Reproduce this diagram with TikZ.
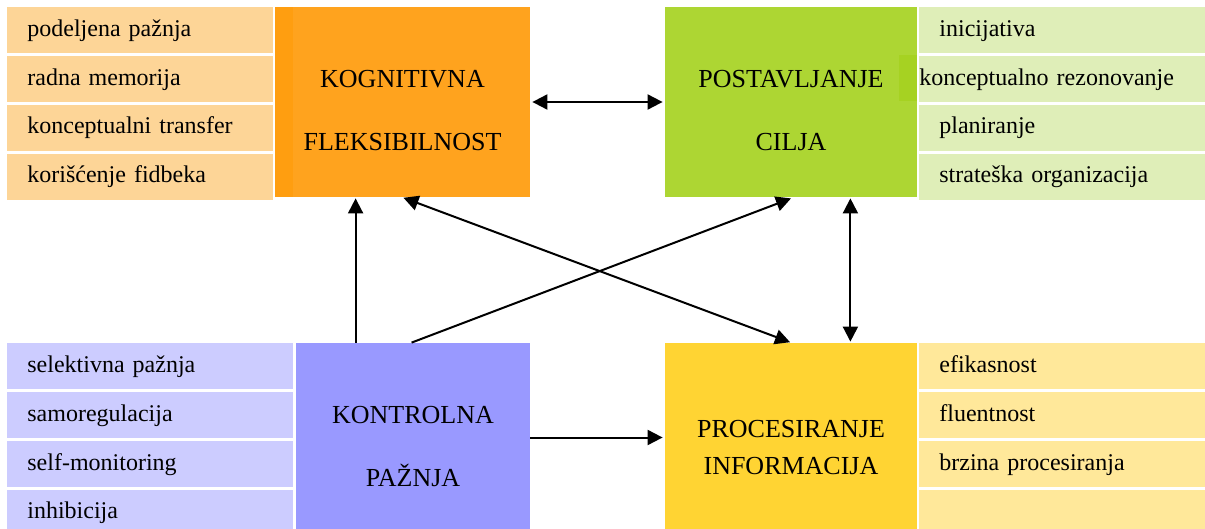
\documentclass[tikz,border=0pt]{standalone}
\usepackage{fontspec}
\setmainfont{Liberation Serif}
\usetikzlibrary{positioning,arrows.meta}

\definecolor{kfmain}{RGB}{255,163,30}
\definecolor{kfdark}{RGB}{255,158,16}
\definecolor{kflist}{RGB}{253,213,151}
\definecolor{pcmain}{RGB}{173,214,51}
\definecolor{pcdark}{RGB}{166,210,34}
\definecolor{pclist}{RGB}{223,238,184}
\definecolor{kpmain}{RGB}{153,153,255}
\definecolor{kplist}{RGB}{204,204,255}
\definecolor{pimain}{RGB}{255,212,51}
\definecolor{pilist}{RGB}{255,232,154}

\begin{document}
\begin{tikzpicture}[x=0.5pt,y=-0.5pt,node distance=1pt,
  item/.style={rectangle,inner xsep=10pt,inner ysep=0pt,text width=#1,minimum height=23pt,
    text height=8.5pt,text depth=2.5pt,align=left,font=\fontsize{12}{14}\selectfont},
  mainbox/.style={rectangle,inner sep=0pt,minimum width=#1,minimum height=95pt},
  title/.style={align=center,font=\fontsize{13}{31.5}\selectfont},
  tip/.style={Triangle[length=7.5pt,width=7.5pt]},
  arr/.style={-{Triangle[length=7.5pt,width=7.5pt]},line width=1pt},
  darr/.style={{Triangle[length=7.5pt,width=7.5pt]}-{Triangle[length=7.5pt,width=7.5pt]},line width=1pt}]
\useasboundingbox (0,0) rectangle (1205,529);

% main boxes
\node (kf) [mainbox=127.5pt,fill=kfmain] at (402.5,102) {};
\node (pc) [mainbox=126pt,fill=pcmain] at (791,102) {};
\node (kp) [mainbox=117pt,minimum height=94.5pt,fill=kpmain] at (413,437.5) {};
\node (pi) [mainbox=126pt,minimum height=94.5pt,fill=pimain] at (791,437.5) {};
\fill[kfdark] (275,7) rectangle (293,197);
\fill[pcdark] (899,55) rectangle (917,101);

\node (kft) [title] at (402.5,111) {KOGNITIVNA\\FLEKSIBILNOST};
\node (pct) [title] at (791,111) {POSTAVLJANJE\\CILJA};
\node (kpt) [title] at (413,447) {KONTROLNA\\PAŽNJA};
\node (pit) [title,font=\fontsize{13}{18.5}\selectfont] at (791,447.5) {PROCESIRANJE\\INFORMACIJA};

% kognitivna fleksibilnost
\node (kf1) [item=113pt,fill=kflist,anchor=north west] at (7,7) {podeljena pažnja};
\node (kf2) [item=113pt,fill=kflist,below=of kf1] {radna memorija};
\node (kf3) [item=113pt,fill=kflist,below=of kf2] {konceptualni transfer};
\node (kf4) [item=113pt,fill=kflist,below=of kf3] {korišćenje fidbeka};

% postavljanje cilja
\node (pc1) [item=123pt,fill=pclist,anchor=north west] at (919,7) {inicijativa};
\node (pc2) [item=123pt,fill=pclist,below=of pc1] {\hspace*{-10pt}konceptualno rezonovanje};
\node (pc3) [item=123pt,fill=pclist,below=of pc2] {planiranje};
\node (pc4) [item=123pt,fill=pclist,below=of pc3] {strateška organizacija};

% kontrolna paznja
\node (kp1) [item=123pt,fill=kplist,anchor=north west] at (7,343) {selektivna pažnja};
\node (kp2) [item=123pt,fill=kplist,below=of kp1] {samoregulacija};
\node (kp3) [item=123pt,fill=kplist,below=of kp2] {self-monitoring};
\node (kp4) [item=123pt,fill=kplist,below=of kp3] {inhibicija};

% procesiranje informacija
\node (pi1) [item=123pt,fill=pilist,anchor=north west] at (919,343) {efikasnost};
\node (pi2) [item=123pt,fill=pilist,below=of pi1] {fluentnost};
\node (pi3) [item=123pt,fill=pilist,below=of pi2] {brzina procesiranja};
\node (pi4) [item=123pt,fill=pilist,below=of pi3] {};

% connectors
\draw[darr,shorten <=1pt,shorten >=1pt] (kf.east) -- (pc.west);
\draw[arr] (kp.east) -- ([xshift=-1pt]pi.west);
\draw[arr] ([xshift=30pt]kp.north west) -- ([xshift=30pt,yshift=-0.5pt]kp.north west |- kf.south);
\draw[arr] ([xshift=58pt]kp.north west) -- ([yshift=-0.5pt]pc.south);
\draw[darr,shorten <=0.5pt,shorten >=0.5pt] (kf.south) -- (pi.north);
\draw[darr,shorten <=0.5pt,shorten >=0.5pt] ([xshift=-33.5pt]pc.south east) -- ([xshift=-33.5pt]pi.north east);

\end{tikzpicture}
\end{document}
